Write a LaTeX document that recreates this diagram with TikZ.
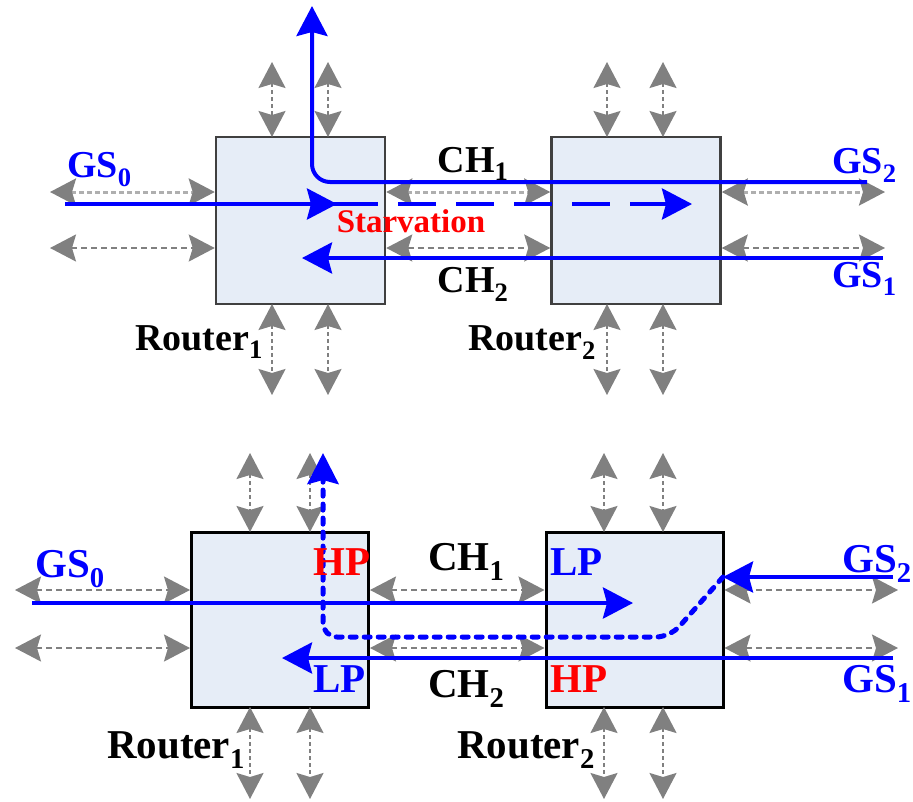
\documentclass[tikz,border=0pt]{standalone}
\usepackage{fontspec}
\setmainfont{Liberation Serif}
\usetikzlibrary{arrows.meta}
\definecolor{boxfill}{RGB}{230,237,247}
\definecolor{arrgray}{RGB}{128,128,128}
\definecolor{lightg}{RGB}{175,175,175}
\begin{document}
\begin{tikzpicture}[x=1pt,y=-1pt,
  every node/.style={inner sep=0pt},
  routerA/.style={draw=black!75, fill=boxfill, line width=2.5pt, minimum width=169pt, minimum height=167pt},
  routerB/.style={draw=black, fill=boxfill, line width=3pt, minimum width=177pt, minimum height=175pt},
  gp/.style={draw=arrgray, line width=2pt, dash pattern=on 6pt off 4pt,
    >={Stealth[length=26pt,width=27pt,inset=4pt,color=arrgray]}, <->},
  gpl/.style={gp, draw=lightg, line width=3pt, dash pattern=on 5pt off 3pt},
  gv/.style={gp, dash pattern=on 4pt off 3pt},
  bl/.style={draw=blue, line width=4pt, >={Stealth[length=30pt,width=31pt,inset=4pt]}},
  bldot/.style={draw=blue, line width=5pt, dash pattern=on 6pt off 8pt, line cap=round,
    >={Stealth[length=31pt,width=31pt,inset=4pt]}},
  lblA/.style={anchor=base west, font=\bfseries\fontsize{38}{40}\selectfont},
  lblB/.style={anchor=base west, font=\bfseries\fontsize{41}{44}\selectfont}
]
\useasboundingbox (0,0) rectangle (913,801);

% ================= TOP =================
\node[routerA] (r1) at (300.5,220.5) {};
\node[routerA] (r2) at (636,220.5) {};

\foreach \x in {272,328,607,663}{
  \draw[gv] (\x,62) -- (\x,137);
  \draw[gv] (\x,304) -- (\x,395);
}
\draw[gpl] (50,192) -- (r1.west |- 0,192);
\draw[gp]  (50,248) -- (r1.west |- 0,248);
\draw[gpl] (r1.east |- 0,192) -- (r2.west |- 0,192);
\draw[gp]  (r1.east |- 0,248) -- (r2.west |- 0,248);
\draw[gpl] (r2.east |- 0,192) -- (885,192);
\draw[gp]  (r2.east |- 0,248) -- (885,248);

\coordinate (tgs2) at (867,182);
\coordinate (tup) at (312,6);
\coordinate (tgs0) at (65,204);
\coordinate (tgs1) at (883,258);
\draw[bl,->,rounded corners=18pt] (tgs2) -- (312,182) -- (tup);
\draw[bl] (tgs0) -- (378,204);
\draw[bl,->] (tgs0) -- (337,204);
\draw[bl,->,dash pattern=on 38pt off 20pt] (398,204) -- (692,204);
\draw[bl,->] (tgs1) -- (302,258);

\node[lblA, text=blue] (tl0) at (67,177) {GS\textsubscript{0}};
\node[lblA, text=blue] (tl2) at (832,173) {GS\textsubscript{2}};
\node[lblA, text=blue] (tl1) at (832,287) {GS\textsubscript{1}};
\node[lblA, anchor=base] (tc1) at (473,172) {CH\textsubscript{1}};
\node[lblA, anchor=base] (tc2) at (473,292) {CH\textsubscript{2}};
\node[anchor=base, text=red, font=\bfseries\fontsize{33}{36}\selectfont] (ts) at (411,232) {Starvation};
\node[lblA] (tr1) at (135,350) {Router\textsubscript{1}};
\node[lblA] (tr2) at (468,350) {Router\textsubscript{2}};

% ================= BOTTOM =================
\node[routerB] (r3) at (280,619.5) {};
\node[routerB] (r4) at (634.5,619.5) {};

\foreach \x in {250,310,604,663}{
  \draw[gv] (\x,453) -- (\x,532);
  \draw[gv] (\x,707) -- (\x,799);
}
\draw[gp] (15,590) -- (r3.west |- 0,590);
\draw[gp] (15,648) -- (r3.west |- 0,648);
\draw[gp] (r3.east |- 0,590) -- (r4.west |- 0,590);
\draw[gp] (r3.east |- 0,648) -- (r4.west |- 0,648);
\draw[gp] (r4.east |- 0,590) -- (898,590);
\draw[gp] (r4.east |- 0,648) -- (898,648);

\coordinate (bgs0) at (32,603);
\coordinate (bgs2) at (893,577);
\coordinate (bgs1) at (893,658);
\coordinate (bsw) at (723,577);
\coordinate (bup) at (323,453);
\draw[bl,->] (bgs0) -- (633,603);
\draw[bldot,->,rounded corners=14pt] (bsw) -- (670,637) -- (323,637) -- (bup);
\draw[bl,->] (bgs2) -- (bsw);
\draw[bl,->] (bgs1) -- (282,658);

\node[lblB, text=blue] (bl0) at (35,577) {GS\textsubscript{0}};
\node[lblB, text=red]  (bh1) at (313,575) {HP};
\node[lblB, text=blue] (bp1) at (313,692) {LP};
\node[lblB] (bc1) at (428,570) {CH\textsubscript{1}};
\node[lblB] (bc2) at (428,697) {CH\textsubscript{2}};
\node[lblB, text=blue] (bp2) at (550,575) {LP};
\node[lblB, text=red]  (bh2) at (550,692) {HP};
\node[lblB, text=blue] (bl2) at (842,572) {GS\textsubscript{2}};
\node[lblB, text=blue] (bl1) at (842,692) {GS\textsubscript{1}};
\node[lblB] (br1) at (107,758) {Router\textsubscript{1}};
\node[lblB] (br2) at (457,758) {Router\textsubscript{2}};
\end{tikzpicture}
\end{document}
